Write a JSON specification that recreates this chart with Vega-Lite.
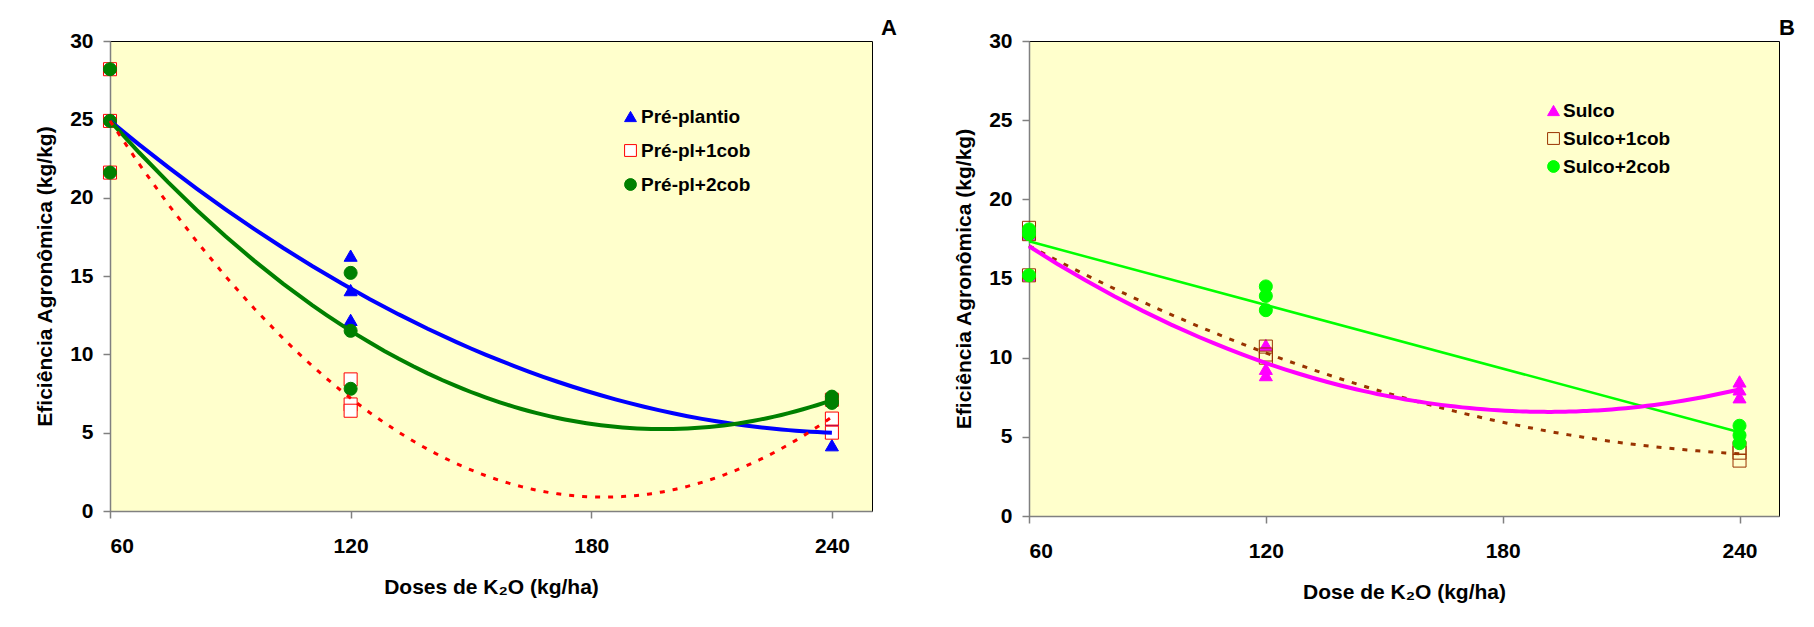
{
  "$schema": "https://vega.github.io/schema/vega-lite/v6.json",
  "background": "white",
  "autosize": {"type": "pad"},
  "padding": {"left": 34, "top": 16, "right": 19, "bottom": 20},
  "bounds": "flush",
  "spacing": 157,
  "datasets": {
    "painelA": [
      {"dose": 60, "efic": 28.2, "serie": "Pré-plantio"},
      {"dose": 60, "efic": 24.9, "serie": "Pré-plantio"},
      {"dose": 60, "efic": 21.6, "serie": "Pré-plantio"},
      {"dose": 120, "efic": 16.3, "serie": "Pré-plantio"},
      {"dose": 120, "efic": 14.1, "serie": "Pré-plantio"},
      {"dose": 120, "efic": 12.2, "serie": "Pré-plantio"},
      {"dose": 240, "efic": 5.8, "serie": "Pré-plantio"},
      {"dose": 240, "efic": 5.0, "serie": "Pré-plantio"},
      {"dose": 240, "efic": 4.2, "serie": "Pré-plantio"},
      {"dose": 60, "efic": 28.2, "serie": "Pré-pl+1cob"},
      {"dose": 60, "efic": 24.9, "serie": "Pré-pl+1cob"},
      {"dose": 60, "efic": 21.6, "serie": "Pré-pl+1cob"},
      {"dose": 120, "efic": 8.4, "serie": "Pré-pl+1cob"},
      {"dose": 120, "efic": 6.8, "serie": "Pré-pl+1cob"},
      {"dose": 120, "efic": 6.4, "serie": "Pré-pl+1cob"},
      {"dose": 240, "efic": 7.1, "serie": "Pré-pl+1cob"},
      {"dose": 240, "efic": 5.9, "serie": "Pré-pl+1cob"},
      {"dose": 240, "efic": 5.0, "serie": "Pré-pl+1cob"},
      {"dose": 60, "efic": 28.2, "serie": "Pré-pl+2cob"},
      {"dose": 60, "efic": 24.9, "serie": "Pré-pl+2cob"},
      {"dose": 60, "efic": 21.6, "serie": "Pré-pl+2cob"},
      {"dose": 120, "efic": 15.2, "serie": "Pré-pl+2cob"},
      {"dose": 120, "efic": 11.5, "serie": "Pré-pl+2cob"},
      {"dose": 120, "efic": 7.8, "serie": "Pré-pl+2cob"},
      {"dose": 240, "efic": 7.3, "serie": "Pré-pl+2cob"},
      {"dose": 240, "efic": 7.0, "serie": "Pré-pl+2cob"},
      {"dose": 240, "efic": 6.9, "serie": "Pré-pl+2cob"}
    ],
    "painelB": [
      {"dose": 60, "efic": 18.1, "serie": "Sulco"},
      {"dose": 60, "efic": 17.8, "serie": "Sulco"},
      {"dose": 60, "efic": 15.2, "serie": "Sulco"},
      {"dose": 120, "efic": 10.8, "serie": "Sulco"},
      {"dose": 120, "efic": 9.3, "serie": "Sulco"},
      {"dose": 120, "efic": 8.9, "serie": "Sulco"},
      {"dose": 240, "efic": 8.5, "serie": "Sulco"},
      {"dose": 240, "efic": 8.0, "serie": "Sulco"},
      {"dose": 240, "efic": 7.5, "serie": "Sulco"},
      {"dose": 60, "efic": 18.2, "serie": "Sulco+1cob"},
      {"dose": 60, "efic": 17.8, "serie": "Sulco+1cob"},
      {"dose": 60, "efic": 15.2, "serie": "Sulco+1cob"},
      {"dose": 120, "efic": 10.7, "serie": "Sulco+1cob"},
      {"dose": 120, "efic": 10.2, "serie": "Sulco+1cob"},
      {"dose": 120, "efic": 10.0, "serie": "Sulco+1cob"},
      {"dose": 240, "efic": 4.3, "serie": "Sulco+1cob"},
      {"dose": 240, "efic": 4.0, "serie": "Sulco+1cob"},
      {"dose": 240, "efic": 3.5, "serie": "Sulco+1cob"},
      {"dose": 60, "efic": 18.1, "serie": "Sulco+2cob"},
      {"dose": 60, "efic": 17.8, "serie": "Sulco+2cob"},
      {"dose": 60, "efic": 15.2, "serie": "Sulco+2cob"},
      {"dose": 120, "efic": 14.5, "serie": "Sulco+2cob"},
      {"dose": 120, "efic": 13.9, "serie": "Sulco+2cob"},
      {"dose": 120, "efic": 13.0, "serie": "Sulco+2cob"},
      {"dose": 240, "efic": 5.7, "serie": "Sulco+2cob"},
      {"dose": 240, "efic": 5.1, "serie": "Sulco+2cob"},
      {"dose": 240, "efic": 4.6, "serie": "Sulco+2cob"}
    ]
  },
  "hconcat": [
    {
      "width": 762,
      "height": 470,
      "title": {"text": "A", "anchor": "end", "frame": "group", "dx": 25, "dy": 34, "offset": 7, "baseline": "alphabetic"},
      "data": {"name": "painelA"},
      "encoding": {
        "x": {"field": "dose", "type": "quantitative", "scale": {"domain": [60, 250], "nice": false, "zero": false}, "axis": {"values": [60, 120, 180, 240], "title": "Doses de K₂O (kg/ha)"}},
        "y": {"field": "efic", "type": "quantitative", "scale": {"domain": [0, 30], "nice": false}, "axis": {"values": [0, 5, 10, 15, 20, 25, 30], "title": "Eficiência Agronômica (kg/kg)"}}
      },
      "layer": [
        {
          "mark": {"type": "point", "opacity": 1, "fillOpacity": 1, "strokeWidth": 1, "size": 170},
          "encoding": {
            "shape": {"field": "serie", "type": "nominal", "scale": {"domain": ["Pré-plantio", "Pré-pl+1cob", "Pré-pl+2cob"], "range": ["triangle-up", "square", "circle"]},
              "legend": {"title": null, "orient": "none", "legendX": 511, "legendY": 66, "padding": 0, "symbolSize": 140, "symbolStrokeWidth": 1, "labelFont": "Liberation Sans", "labelFontSize": 19, "labelFontWeight": "bold", "labelOffset": 1, "rowPadding": 14, "labelLimit": 300,
                "encode": {"labels": {"update": {"fill": {"signal": "datum.label === 'Pré-plantio' ? '#0000FF' : datum.label === 'Pré-pl+1cob' ? '#FF0000' : '#008000'"}}}}}},
            "fill": {"field": "serie", "type": "nominal", "scale": {"domain": ["Pré-plantio", "Pré-pl+1cob", "Pré-pl+2cob"], "range": ["#0000FF", "#FFFFFF", "#008000"]},
              "legend": {"title": null, "orient": "none", "legendX": 511, "legendY": 66, "padding": 0, "symbolSize": 140, "symbolStrokeWidth": 1, "labelFont": "Liberation Sans", "labelFontSize": 19, "labelFontWeight": "bold", "labelOffset": 1, "rowPadding": 14, "labelLimit": 300,
                "encode": {"labels": {"update": {"fill": {"signal": "datum.label === 'Pré-plantio' ? '#0000FF' : datum.label === 'Pré-pl+1cob' ? '#FF0000' : '#008000'"}}}}}},
            "stroke": {"field": "serie", "type": "nominal", "scale": {"domain": ["Pré-plantio", "Pré-pl+1cob", "Pré-pl+2cob"], "range": ["#0000FF", "#FF0000", "#008000"]},
              "legend": {"title": null, "orient": "none", "legendX": 511, "legendY": 66, "padding": 0, "symbolSize": 140, "symbolStrokeWidth": 1, "labelFont": "Liberation Sans", "labelFontSize": 19, "labelFontWeight": "bold", "labelOffset": 1, "rowPadding": 14, "labelLimit": 300,
                "encode": {"labels": {"update": {"fill": {"signal": "datum.label === 'Pré-plantio' ? '#0000FF' : datum.label === 'Pré-pl+1cob' ? '#FF0000' : '#008000'"}}}}}}
          }
        },
        {
          "transform": [{"filter": "datum.serie === 'Pré-plantio'"}, {"regression": "efic", "on": "dose", "method": "poly", "order": 2}],
          "mark": {"type": "line", "color": "#0000FF", "strokeWidth": 4},
          "encoding": {}
        },
        {
          "transform": [{"filter": "datum.serie === 'Pré-pl+2cob'"}, {"regression": "efic", "on": "dose", "method": "poly", "order": 2}],
          "mark": {"type": "line", "color": "#008000", "strokeWidth": 4},
          "encoding": {}
        },
        {
          "transform": [{"filter": "datum.serie === 'Pré-pl+1cob'"}, {"regression": "efic", "on": "dose", "method": "poly", "order": 2}],
          "mark": {"type": "line", "color": "#FF0000", "strokeWidth": 3, "strokeDash": [5, 8]},
          "encoding": {}
        }
      ]
    },
    {
      "width": 750,
      "height": 475,
      "title": {"text": "B", "anchor": "end", "frame": "group", "dx": 16, "dy": 34, "offset": 7, "baseline": "alphabetic"},
      "data": {"name": "painelB"},
      "encoding": {
        "x": {"field": "dose", "type": "quantitative", "scale": {"domain": [60, 250], "nice": false, "zero": false}, "axis": {"values": [60, 120, 180, 240], "title": "Dose de K₂O (kg/ha)"}},
        "y": {"field": "efic", "type": "quantitative", "scale": {"domain": [0, 30], "nice": false}, "axis": {"values": [0, 5, 10, 15, 20, 25, 30], "title": "Eficiência Agronômica (kg/kg)"}}
      },
      "layer": [
        {
          "mark": {"type": "point", "opacity": 1, "fillOpacity": 1, "strokeWidth": 1, "size": 170},
          "encoding": {
            "shape": {"field": "serie", "type": "nominal", "scale": {"domain": ["Sulco", "Sulco+1cob", "Sulco+2cob"], "range": ["triangle-up", "square", "circle"]},
              "legend": {"title": null, "orient": "none", "legendX": 515, "legendY": 60, "padding": 0, "symbolSize": 140, "symbolStrokeWidth": 1, "labelFont": "Liberation Sans", "labelFontSize": 19, "labelFontWeight": "bold", "labelOffset": 0, "rowPadding": 8, "labelLimit": 300,
                "encode": {"labels": {"update": {"fill": {"signal": "datum.label === 'Sulco' ? '#FF00FF' : datum.label === 'Sulco+1cob' ? '#993300' : '#00FF00'"}}}}}},
            "fill": {"field": "serie", "type": "nominal", "scale": {"domain": ["Sulco", "Sulco+1cob", "Sulco+2cob"], "range": ["#FF00FF", "transparent", "#00FF00"]},
              "legend": {"title": null, "orient": "none", "legendX": 515, "legendY": 60, "padding": 0, "symbolSize": 140, "symbolStrokeWidth": 1, "labelFont": "Liberation Sans", "labelFontSize": 19, "labelFontWeight": "bold", "labelOffset": 0, "rowPadding": 8, "labelLimit": 300,
                "encode": {"labels": {"update": {"fill": {"signal": "datum.label === 'Sulco' ? '#FF00FF' : datum.label === 'Sulco+1cob' ? '#993300' : '#00FF00'"}}}}}},
            "stroke": {"field": "serie", "type": "nominal", "scale": {"domain": ["Sulco", "Sulco+1cob", "Sulco+2cob"], "range": ["#FF00FF", "#993300", "#00FF00"]},
              "legend": {"title": null, "orient": "none", "legendX": 515, "legendY": 60, "padding": 0, "symbolSize": 140, "symbolStrokeWidth": 1, "labelFont": "Liberation Sans", "labelFontSize": 19, "labelFontWeight": "bold", "labelOffset": 0, "rowPadding": 8, "labelLimit": 300,
                "encode": {"labels": {"update": {"fill": {"signal": "datum.label === 'Sulco' ? '#FF00FF' : datum.label === 'Sulco+1cob' ? '#993300' : '#00FF00'"}}}}}}
          }
        },
        {
          "transform": [{"filter": "datum.serie === 'Sulco+2cob'"}, {"regression": "efic", "on": "dose", "method": "linear"}],
          "mark": {"type": "line", "color": "#00FF00", "strokeWidth": 2.5},
          "encoding": {}
        },
        {
          "transform": [{"filter": "datum.serie === 'Sulco+1cob'"}, {"regression": "efic", "on": "dose", "method": "poly", "order": 2}],
          "mark": {"type": "line", "color": "#993300", "strokeWidth": 3, "strokeDash": [5, 8]},
          "encoding": {}
        },
        {
          "transform": [{"filter": "datum.serie === 'Sulco'"}, {"regression": "efic", "on": "dose", "method": "poly", "order": 2}],
          "mark": {"type": "line", "color": "#FF00FF", "strokeWidth": 4},
          "encoding": {}
        }
      ]
    }
  ],
  "resolve": {
    "scale": {"x": "independent", "y": "independent", "shape": "independent", "fill": "independent", "stroke": "independent"},
    "legend": {"shape": "independent", "fill": "independent", "stroke": "independent"}
  },
  "config": {
    "view": {"fill": "#FFFFCC", "stroke": "#000000", "strokeWidth": 1},
    "axis": {
      "grid": false,
      "domainColor": "#808080",
      "domainWidth": 1.5,
      "tickColor": "#808080",
      "tickWidth": 1.5,
      "tickSize": 7,
      "labelFont": "Liberation Sans",
      "labelFontSize": 21,
      "labelFontWeight": "bold",
      "labelColor": "#000000",
      "titleFont": "Liberation Sans",
      "titleFontSize": 21,
      "titleFontWeight": "bold",
      "titleColor": "#000000"
    },
    "axisX": {"labelPadding": 17, "titlePadding": 20},
    "axisY": {"labelPadding": 10, "titlePadding": 14},
    "title": {"font": "Liberation Sans", "fontSize": 22, "fontWeight": "bold", "color": "#000000"}
  }
}
